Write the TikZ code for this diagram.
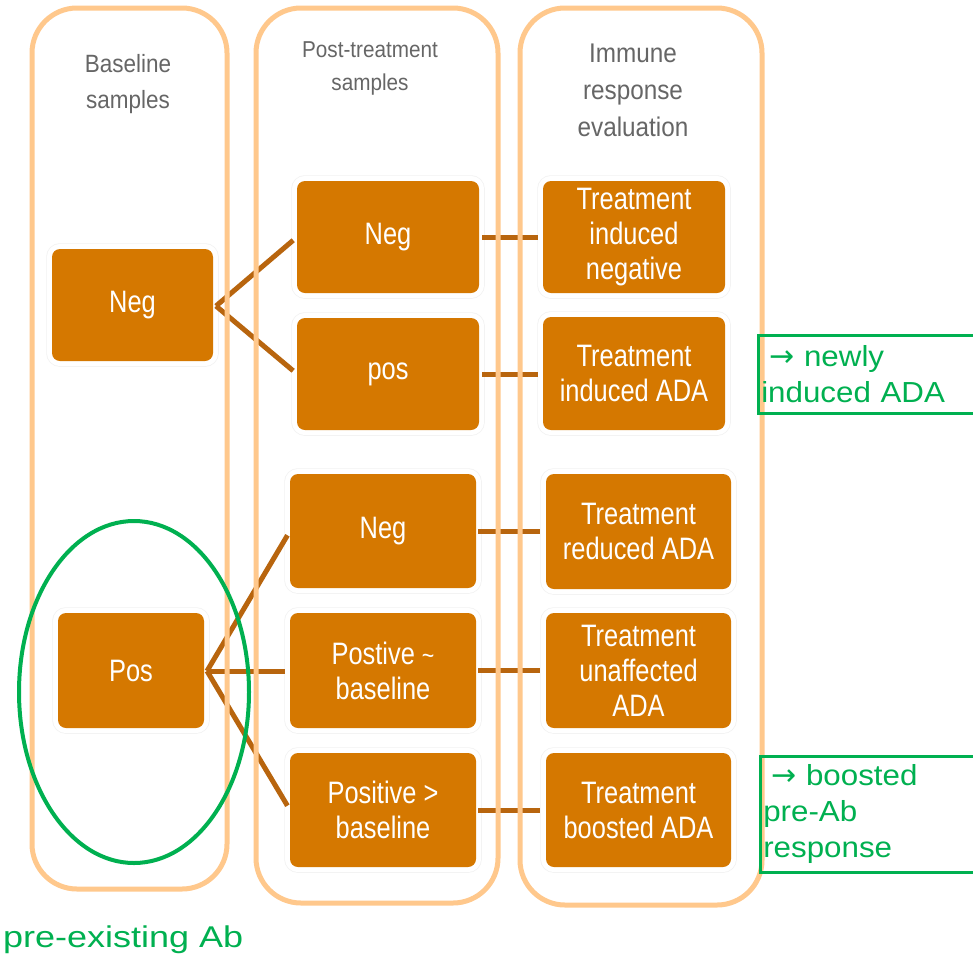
\documentclass[tikz,border=0pt]{standalone}
\usepackage{fontspec}
\setmainfont{Liberation Sans}
\newfontfamily\boxfont[FakeStretch=0.82]{Liberation Sans}
\newfontfamily\headfont[FakeStretch=0.9]{Liberation Sans}
\newfontfamily\greenfont[FakeStretch=1.08]{Liberation Sans}
\newfontfamily\preabfont[FakeStretch=1.2]{Liberation Sans}
\newfontfamily\arrowfont{DejaVu Sans}
\definecolor{boxor}{HTML}{D57800}
\definecolor{connbr}{HTML}{B8650E}
\definecolor{peach}{HTML}{FFC88C}
\definecolor{headgray}{HTML}{666666}
\definecolor{mygreen}{HTML}{00B050}
\tikzset{
  obox/.style={fill=boxor, rounded corners=8pt, inner sep=0pt, outer sep=0pt,
    text=white, align=center, font=\boxfont\fontsize{31}{35}\selectfont,
    preaction={draw=black!5, line width=11.5pt},
    preaction={draw=white, line width=10pt}},
  conn/.style={draw=connbr, line width=5pt},
  column/.style={draw=peach, line width=5pt, rounded corners=45pt},
  header/.style={text=headgray, align=center, inner sep=0pt},
  gbox/.style={draw=mygreen, line width=2.5pt, anchor=north west, inner xsep=3pt,
    inner ysep=0pt, text=mygreen, align=left, text width=220pt,
    font=\greenfont\fontsize{29}{36}\selectfont}
}
\newcommand{\grarrow}{\hspace*{8pt}{\arrowfont\fontsize{30}{36}\selectfont\char"2192}\ }
\begin{document}
\begin{tikzpicture}[x=1pt,y=-1pt]
\useasboundingbox (0,0) rectangle (973,959);
\fill[white] (0,0) rectangle (973,959);
\clip (0,0) rectangle (973,959);

% headers
\node[header, font=\headfont\fontsize{25}{36}\selectfont] (hbase) at (128,84) {Baseline\\samples};
\node[header, font=\headfont\fontsize{23}{33}\selectfont] (hpost) at (370,68) {Post-treatment\\samples};
\node[header, font=\headfont\fontsize{27}{37}\selectfont] (himm) at (633,90) {Immune\\response\\evaluation};

% baseline boxes
\node[obox, minimum width=161pt, minimum height=112pt] (negB) at (132.5,305) {Neg};
\node[obox, minimum width=146pt, minimum height=115pt] (posB) at (131,670.5) {Pos};

% post-treatment boxes
\node[obox, minimum width=182pt, minimum height=112pt] (pn1) at (388,237) {Neg};
\node[obox, minimum width=182pt, minimum height=112pt] (pp1) at (388,374) {pos};
\node[obox, minimum width=186pt, minimum height=114pt] (pn2) at (383,531) {Neg};
\node[obox, minimum width=186pt, minimum height=115pt] (pe2) at (383,670.5) {Postive {\fontsize{26}{26}\selectfont\textasciitilde}\\baseline};
\node[obox, minimum width=186pt, minimum height=114pt] (pg2) at (383,810) {Positive \textgreater\\baseline};

% evaluation boxes
\node[obox, minimum width=182pt, minimum height=112pt] (e1) at (634,237) {Treatment\\induced\\negative};
\node[obox, minimum width=182pt, minimum height=113pt] (e2) at (634,373.5) {Treatment\\induced ADA};
\node[obox, minimum width=185pt, minimum height=115pt] (e3) at (638.5,531.5) {Treatment\\reduced ADA};
\node[obox, minimum width=185pt, minimum height=115pt] (e4) at (638.5,670.5) {Treatment\\unaffected\\ADA};
\node[obox, minimum width=185pt, minimum height=114pt] (e5) at (638.5,810) {Treatment\\boosted ADA};

% connectors
\coordinate (aN) at (216,306);
\coordinate (aP) at (207,671);
\draw[conn, shorten >=5pt] (aN) -- (pn1.west);
\draw[conn, shorten >=5pt] (aN) -- (pp1.west);
\draw[conn, shorten >=5pt] (aP) -- (pn2.west);
\draw[conn, shorten >=5pt] (aP) -- (aP -| pe2.west);
\draw[conn, shorten >=5pt] (aP) -- (pg2.west);
\draw[conn, shorten <=3pt, shorten >=5pt] (pn1.east) -- (pn1.east -| e1.west);
\draw[conn, shorten <=3pt, shorten >=5pt] (pp1.east) -- (pp1.east -| e2.west);
\draw[conn, shorten <=2pt, shorten >=6pt] (pn2.east) -- (pn2.east -| e3.west);
\draw[conn, shorten <=2pt, shorten >=6pt] (pe2.east) -- (pe2.east -| e4.west);
\draw[conn, shorten <=2pt, shorten >=6pt] (pg2.east) -- (pg2.east -| e5.west);

% columns
\draw[column] (32,8) rectangle (227,889);
\draw[column] (256,8) rectangle (498,903);
\draw[column] (520,8) rectangle (762,905);

% green annotations
\draw[mygreen, line width=4pt] (134,692) ellipse [x radius=115, y radius=171];
\node[gbox, minimum height=78pt] (g1) at (757,334) {\grarrow newly\\induced ADA};
\node[gbox, minimum height=116pt] (g2) at (759,755) {\grarrow boosted\\pre-Ab\\response};
\node[anchor=base west, inner sep=0pt, text=mygreen, font=\preabfont\fontsize{30}{36}\selectfont] (preab) at (3,947) {pre-existing Ab};
\end{tikzpicture}
\end{document}
